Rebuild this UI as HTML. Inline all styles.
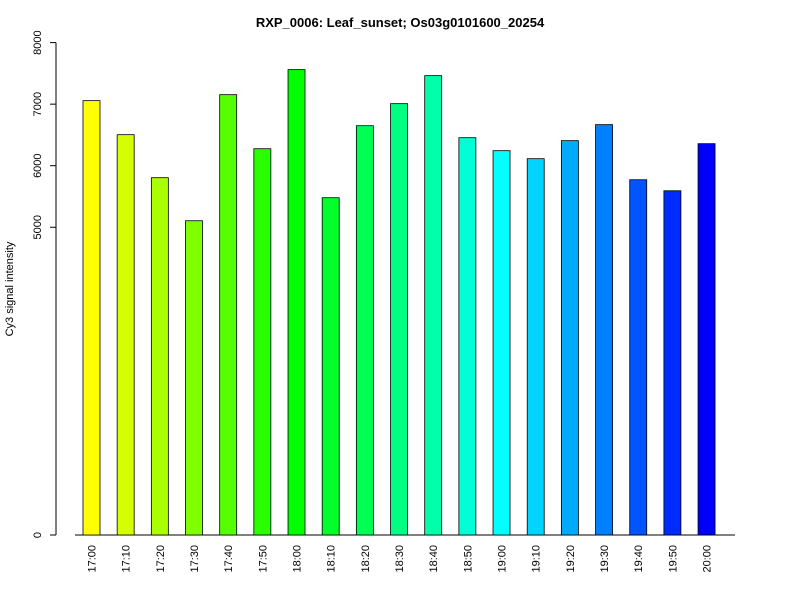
<!DOCTYPE html>
<html><head><meta charset="utf-8"><style>
body{margin:0;background:#fff;font-family:"Liberation Sans",Arial,sans-serif}
svg text{font-family:"Liberation Sans",Arial,sans-serif}
</style></head><body>
<svg id="c" width="800" height="600" xmlns="http://www.w3.org/2000/svg">
<rect width="800" height="600" fill="#fff"/>
<text x="400" y="27" text-anchor="middle" font-size="13" font-weight="bold">RXP_0006: Leaf_sunset; Os03g0101600_20254</text>
<text transform="translate(13,289) rotate(-90)" text-anchor="middle" font-size="11">Cy3 signal intensity</text>
</svg>
<script>
const categories=["17:00","17:10","17:20","17:30","17:40","17:50","18:00","18:10","18:20","18:30","18:40","18:50","19:00","19:10","19:20","19:30","19:40","19:50","20:00"];
const values=[7057,6504,5805,5106,7154,6276,7561,5480,6650,7008,7463,6455,6244,6114,6407,6667,5772,5593,6358];
const yTicks=[0,5000,6000,7000,8000];
const svg=document.getElementById('c');
const NS="http://www.w3.org/2000/svg";
const y0=535,ppu=61.55/1000;
const y=v=>y0-v*ppu;
const x=i=>91.5+i*34.17;
function mk(t,a){const e=document.createElementNS(NS,t);for(const k in a)e.setAttribute(k,a[k]);svg.appendChild(e);return e;}
const ax=mk('line',{x1:56,x2:56,y1:y(0),y2:y(8000),stroke:'#000'});


yTicks.forEach(v=>{
 const l=mk('line',{x1:50,x2:56,y1:y(v),y2:y(v),stroke:'#000'});
 
 
 const t=mk('text',{transform:`translate(41,${y(v)}) rotate(-90)`,'text-anchor':'middle','font-size':11});
 t.textContent=v;
 
 
});
const xa=mk('line',{x1:75,x2:735,y1:y0,y2:y0,stroke:'#000'});


categories.forEach((c,i)=>{
 const n=categories.length;
 const hue=60+180*i/(n-1);
 const r=mk('rect',{x:x(i)-8.5,y:y(values[i]),width:17,height:values[i]*ppu,fill:`hsl(${hue},100%,50%)`,stroke:'#000','stroke-width':0.8});
 
 
 const t=mk('text',{transform:`translate(${x(i)+4},545) rotate(-90)`,'text-anchor':'end','font-size':11});
 t.textContent=c;
 
 
});
</script>
</body></html>
